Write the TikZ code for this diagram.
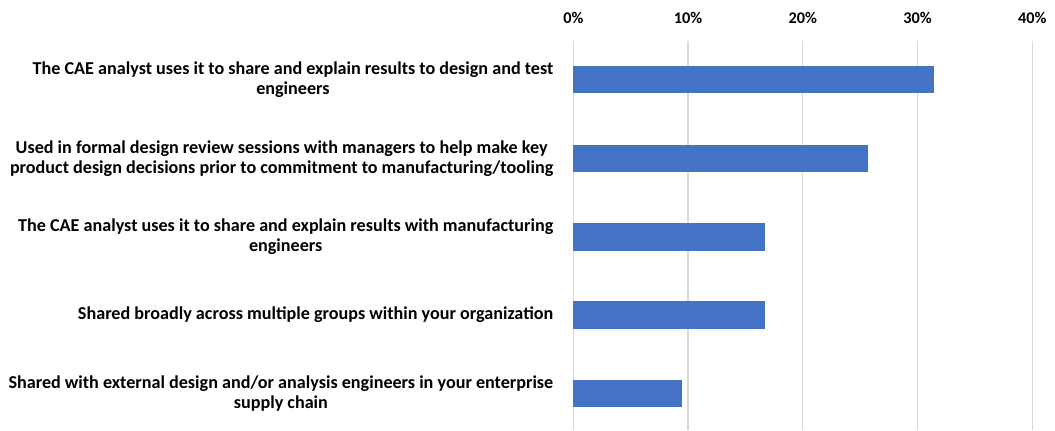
\documentclass[tikz,border=0pt]{standalone}
\usepackage{fontspec}
\setmainfont{Carlito}
\definecolor{barblue}{HTML}{4472C4}
\definecolor{gridgray}{HTML}{D9D9D9}
\tikzset{
  bar/.style={fill=barblue,draw=none},
  grid line/.style={gridgray,line width=0.9pt},
  cat label/.style={anchor=east,align=center,inner sep=0pt,
    font=\bfseries\fontsize{13.6}{15}\selectfont},
  tick label/.style={inner sep=0pt,font=\bfseries\fontsize{12.2}{15}\selectfont}
}
\begin{document}
\begin{tikzpicture}[x=0.75pt,y=-0.75pt]
  \useasboundingbox (0,0) rectangle (1055,430);
  % grid and percent ticks
  \foreach \p [count=\i from 0] in {0,10,20,30,40} {
    \coordinate (g\i) at (573.3+11.475*\p,41);
    \draw[grid line] (g\i) -- ++(0,389);
    \node[tick label] (t\i) at (573.3+11.475*\p,17.5) {\p\%};
  }
  % bars
  \foreach \n/\y/\v in {1/79.7/31.4,2/158.3/25.7,3/237/16.7,4/315/16.7,5/393.5/9.5} {
    \path[bar] (573.3,\y-13.6) rectangle ++(11.475*\v,27.2);
  }
  % category labels
  \node[cat label] (c1) at (553.5,79.7) {The CAE analyst uses it to share and explain results to design and test\\engineers};
  \node[cat label] (c2) at (553.5,158.3) {Used in formal design review sessions with managers to help make key\\product design decisions prior to commitment to manufacturing/tooling};
  \node[cat label] (c3) at (553.5,237) {The CAE analyst uses it to share and explain results with manufacturing\\engineers};
  \node[cat label] (c4) at (553.5,315) {Shared broadly across multiple groups within your organization};
  \node[cat label] (c5) at (553.5,393.5) {Shared with external design and/or analysis engineers in your enterprise\\supply chain};
\end{tikzpicture}
\end{document}
